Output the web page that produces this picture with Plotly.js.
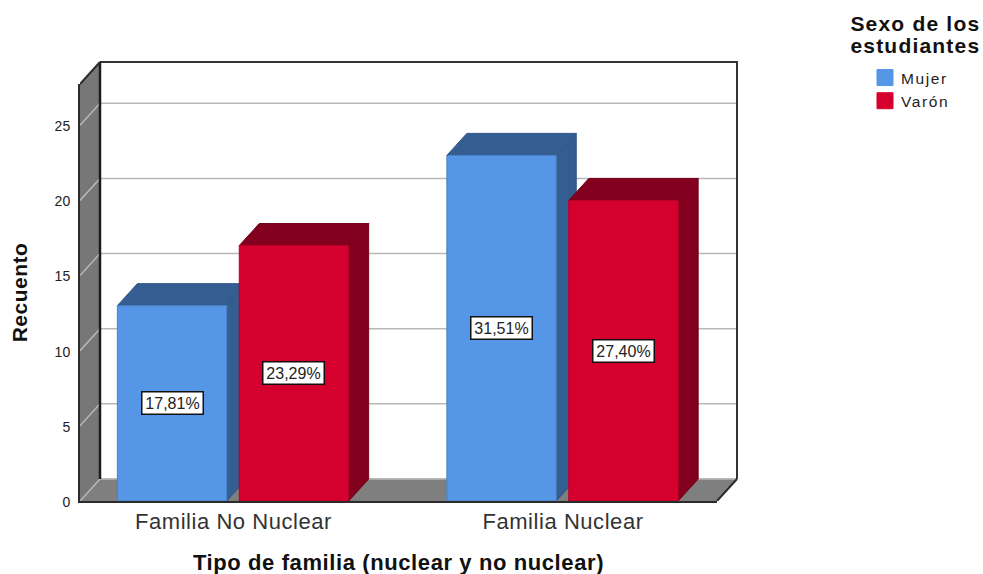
<!DOCTYPE html>
<html><head><meta charset="utf-8">
<script src="https://cdn.plot.ly/plotly-3.0.1.min.js"></script>
<style>html,body{margin:0;padding:0;background:#fff}#c{width:983px;height:574px}
.x2tick text{letter-spacing:.55px}
.g-x2title text{letter-spacing:.6px;transform:translateY(1px)}
.g-y2title text{letter-spacing:.5px}
.legendtext{letter-spacing:1.6px;transform:translateX(-4px)}
.annotation[data-index="4"] text,.annotation[data-index="5"] text{letter-spacing:1.2px}
</style>
</head><body><div id="c"></div>
<script>
const categories = ["Familia No Nuclear", "Familia Nuclear"];
const mujer = [13, 23];
const varon = [17, 20];
const mujerLabels = ["17,81%", "31,51%"];
const varonLabels = ["23,29%", "27,40%"];
const yTicks = [0, 5, 10, 15, 20, 25];

const pos = categories.map((_, i) => i);
const font = "Liberation Sans, Arial, sans-serif";
const W = 637, H = 417, DX = 20, DY = 22, PAD = 5;
const xR = [-0.4659, 1.4674], yR = [0, 27.75];
const ux = (xR[1] - xR[0]) / W, uy = (yR[1] - yR[0]) / H;
const dx = DX * ux, dy = DY * uy;
const barW = 0.332, offM = -0.3525, offV = 0.0175;

function poly(xs, ys, fill, line) {
  return {type: "scatter", mode: "lines", x: xs, y: ys, fill: "toself", fillcolor: fill,
    line: {color: line || fill, width: 1}, showlegend: false, hoverinfo: "skip"};
}
function lines(xs, ys, color, width) {
  return {type: "scatter", mode: "lines", x: xs, y: ys, line: {color: color, width: width},
    showlegend: false, hoverinfo: "skip", connectgaps: false};
}
function box3d(values, off, topCol, edge) {
  const out = [];
  values.forEach((v, i) => {
    const a = pos[i] + off, b = a + barW;
    out.push(poly([b, b + dx, b + dx, b, b], [0, dy, v + dy, v, 0], topCol, edge));
    out.push(poly([a, a + dx, b + dx, b, a], [v, v + dy, v + dy, v, v], topCol, edge));
  });
  return out;
}
const grid = {x: [], y: []};
yTicks.forEach(t => {
  grid.x.push(xR[0], xR[0] + dx, xR[1] + dx, null);
  grid.y.push(t, t + dy, t + dy, null);
});
const traces = [
  poly([xR[0], xR[0] + dx, xR[0] + dx, xR[0], xR[0]], [0, dy, yR[1] + dy, yR[1], 0], "#777777"),
  poly([xR[0], xR[0] + dx, xR[1] + dx, xR[1], xR[0]], [0, dy, dy, 0, 0], "#7f7f7f"),
  lines(grid.x, grid.y, "#b8b8b8", 1.5),
  lines([xR[0] + dx, xR[0] + dx], [dy, yR[1] + dy], "#1c1c1c", 2.5),
  lines([xR[0] + dx, xR[1] + dx, xR[1] + dx], [yR[1] + dy, yR[1] + dy, dy], "#333333", 2),
  lines([xR[0], xR[0] + dx], [yR[1], yR[1] + dy], "#2b2b2b", 2),
  lines([xR[1], xR[1] + dx], [0, dy], "#2b2b2b", 2),
  ...box3d(mujer, offM, "#345d92", "#2f5585"),
  ...box3d(varon, offV, "#82001e", "#74001a"),
  {type: "bar", name: "Mujer", x: pos, y: mujer, width: barW, offset: offM, xaxis: "x2", yaxis: "y2",
    marker: {color: "#5596e6", line: {color: "#4a80c4", width: 1}}, showlegend: false},
  {type: "bar", name: "Varón", x: pos, y: varon, width: barW, offset: offV, xaxis: "x2", yaxis: "y2",
    marker: {color: "#d6002f", line: {color: "#b80028", width: 1}}, showlegend: false},
  {type: "scatter", mode: "markers", name: "Mujer", x: [null], y: [null], marker: {symbol: "square", size: 16, color: "#5596e6", line: {color: "#5596e6", width: 1}}},
  {type: "scatter", mode: "markers", name: "Varón", x: [null], y: [null], marker: {symbol: "square", size: 16, color: "#d6002f", line: {color: "#d6002f", width: 1}}}
];
function lab(x, y, t) {
  return {xref: "x2", yref: "y2", x: x, y: y, text: t, showarrow: false, bgcolor: "#fff", width: 58, height: 19,
    bordercolor: "#111", borderwidth: 1.5, borderpad: 1, font: {family: font, size: 16, color: "#222"}};
}
const annotations = [];
pos.forEach(i => {
  annotations.push(lab(i + offM + barW / 2, mujer[i] / 2, mujerLabels[i]));
  annotations.push(lab(i + offV + barW / 2, varon[i] / 2, varonLabels[i]));
});
const PW = W + DX + PAD, PH = H + DY + PAD;
function paperText(px, py, t) {
  return {xref: "paper", yref: "paper", x: (px - 80) / PW, y: (501 - py) / PH, xanchor: "left", yanchor: "middle",
    text: t, showarrow: false, font: {family: font, size: 21, color: "#111"}};
}
annotations.push(paperText(855, 24, "<b>Sexo de los</b>"), paperText(855, 46, "<b>estudiantes</b>"));

const layout = {
  width: 983, height: 574, margin: {l: 80, r: 983 - 80 - PW, t: 501 - PH, b: 73, pad: 0},
  paper_bgcolor: "#fff", plot_bgcolor: "rgba(0,0,0,0)", barmode: "overlay",
  xaxis: {range: [xR[0], xR[0] + PW * ux], visible: false, domain: [0, 1], anchor: "y"},
  yaxis: {range: [yR[0], yR[0] + PH * uy], visible: false, domain: [0, 1], anchor: "x"},
  xaxis2: {range: xR, domain: [0, W / PW], anchor: "y2", tickmode: "array", tickvals: pos, ticktext: categories,
    showgrid: false, zeroline: false, showline: true, linecolor: "#2b2b2b", linewidth: 2, ticks: "",
    tickfont: {family: font, size: 22, color: "#333"},
    title: {text: "<b>Tipo de familia (nuclear y no nuclear)</b>", standoff: 28, font: {family: font, size: 22, color: "#111"}}},
  yaxis2: {range: yR, domain: [0, H / PH], anchor: "x2", tickmode: "array", tickvals: yTicks,
    showgrid: false, zeroline: false, showline: true, linecolor: "#2b2b2b", linewidth: 2, ticks: "",
    ticklabelstandoff: 5, ticklabelshift: 1, tickfont: {family: font, size: 14, color: "#222"},
    title: {text: "<b>Recuento</b>", standoff: 21, font: {family: font, size: 21, color: "#111"}}},
  legend: {x: (865 - 80) / PW, xanchor: "left", y: (501 - 61) / PH, yanchor: "top", itemsizing: "trace", bgcolor: "rgba(0,0,0,0)",
    tracegroupgap: 0, font: {family: font, size: 15.5, color: "#222"}},
  annotations: annotations,
  hovermode: false
};
Plotly.newPlot("c", traces, layout, {displayModeBar: false, responsive: false});
</script></body></html>
